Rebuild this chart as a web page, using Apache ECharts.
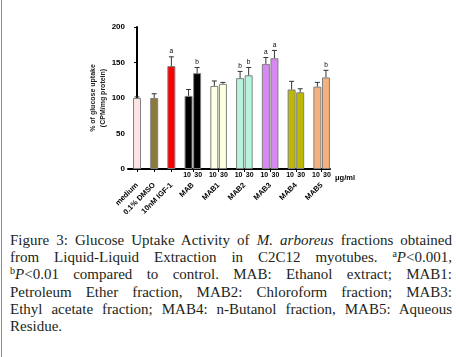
<!DOCTYPE html>
<html>
<head>
<meta charset="utf-8">
<script src="https://cdn.jsdelivr.net/npm/echarts@6/dist/echarts.min.js"></script>
<style>
  html,body{margin:0;padding:0;background:#fff;}
  body{width:456px;height:357px;position:relative;overflow:hidden;}
  #frame{position:absolute;left:1px;top:0;width:1px;height:357px;background:#888;}
  #chart{position:absolute;left:0;top:0;width:456px;height:232px;}
  #cap{position:absolute;left:10px;top:232px;width:442px;font-family:"Liberation Serif","DejaVu Serif",serif;font-size:15px;line-height:17.2px;color:#231f20;}
  #cap div{text-align:justify;text-align-last:justify;white-space:nowrap;}
  #cap div.last{text-align-last:left;}
  #cap sup{font-size:10px;line-height:0;vertical-align:5px;}
</style>
</head>
<body>
<div id="frame"></div>
<div id="chart"></div>
<div id="cap">
<div>Figure 3: Glucose Uptake Activity of <i>M. arboreus</i> fractions obtained</div>
<div>from Liquid-Liquid Extraction in C2C12 myotubes. <sup>a</sup><i>P</i>&lt;0.001,</div>
<div><sup>b</sup><i>P</i>&lt;0.01 compared to control. MAB: Ethanol extract; MAB1:</div>
<div>Petroleum Ether fraction, MAB2: Chloroform fraction; MAB3:</div>
<div>Ethyl acetate fraction; MAB4: n-Butanol fraction, MAB5: Aqueous</div>
<div class="last">Residue.</div>
</div>
<script>
// ---- data ----
const categories = ['medium', '0.1% DMSO', '10nM IGF-1', 'MAB', 'MAB1', 'MAB2', 'MAB3', 'MAB4', 'MAB5'];
const groupSizes = [1, 1, 1, 2, 2, 2, 2, 2, 2];
const groupColors = ['#fde3e3', '#8a7a3c', '#ff0000', '#000000', '#ffffe2', '#b6f5dc', '#d888f2', '#bdb804', '#f5b27e'];
const doseLabels = ['', '', '', '10', '30', '10', '30', '10', '30', '10', '30', '10', '30', '10', '30'];
const means = [100, 100, 145, 103, 135, 117, 120, 128, 132, 148, 156, 112, 108, 116, 129];
const errors = [1.5, 6, 13, 9, 8, 7, 2, 9.5, 11, 9, 11, 11.5, 5, 6, 10];
const signif = ['', '', 'a', '', 'b', '', '', 'b', 'b', 'a', 'a', '', '', '', 'b'];
const yTicks = [0, 50, 100, 150, 200];
const unitLabel = 'μg/ml';

// ---- layout of slots (bar order) ----
const slots = [], colors = [], groupCenters = [], tickPos = [];
let p = 0;
groupSizes.forEach((n, gi) => {
  if (n === 1) { slots.push(p); colors.push(groupColors[gi]); groupCenters.push(p); tickPos.push(p); p += 2; }
  else { slots.push(p, p + 1); colors.push(groupColors[gi], groupColors[gi]); groupCenters.push(p + 0.5); tickPos.push(p + 0.5); p += 3; }
});
const centerName = {};
groupCenters.forEach((c, i) => centerName[c] = categories[i]);

const barData = means.map((v, i) => ({
  value: [slots[i], v],
  itemStyle: { color: colors[i] },
  label: { formatter: doseLabels[i], offset: [doseLabels[i] === '10' ? -1.5 : 1, 0] }
}));
const errData = means.map((v, i) => [slots[i], v, v + errors[i], signif[i]]);

const FONT = 'Arial, Liberation Sans, sans-serif';
const chart = echarts.init(document.getElementById('chart'), null, { renderer: 'canvas' });
chart.setOption({
  animation: false,
  grid: { left: 128, top: 27, width: 202, height: 142, containLabel: false },
  xAxis: {
    type: 'value', min: -1.05, max: 22.47,
    splitLine: { show: false },
    axisLine: { show: true, onZero: false, lineStyle: { color: '#000', width: 2 } },
    axisTick: { show: true, customValues: tickPos, length: 3, lineStyle: { color: '#000', width: 1 } },
    axisLabel: {
      show: true, customValues: groupCenters, rotate: 45, margin: 15,
      formatter: v => centerName[v] || '',
      fontFamily: FONT, fontSize: 7.5, fontWeight: 'bold', color: '#000'
    },
    name: unitLabel, nameLocation: 'end', nameGap: 5,
    nameTextStyle: { fontFamily: FONT, fontSize: 7.5, fontWeight: 'bold', color: '#000', verticalAlign: 'top', align: 'left', padding: [5, 0, 0, 0] }
  },
  yAxis: {
    type: 'value', min: 0, max: 200, interval: 50,
    splitLine: { show: false },
    axisLine: { show: true, lineStyle: { color: '#000', width: 2 } },
    axisTick: { show: true, length: 3, lineStyle: { color: '#000', width: 1 } },
    axisLabel: { formatter: v => yTicks.includes(v) ? String(v) : '', margin: 3, fontFamily: FONT, fontSize: 8, fontWeight: 'bold', color: '#000' },
    name: '% of glucose uptake\n(CPM/mg protein)', nameLocation: 'middle', nameGap: 17, nameRotate: 90,
    nameTextStyle: { fontFamily: FONT, fontSize: 7, fontWeight: 'bold', color: '#222', lineHeight: 10 }
  },
  series: [
    {
      type: 'bar', data: barData, barWidth: 8,
      itemStyle: { borderColor: '#808080', borderWidth: 1 },
      label: { show: true, position: 'bottom', distance: 3, fontFamily: FONT, fontSize: 7, fontWeight: 'bold', color: '#000' },
      z: 2
    },
    {
      type: 'custom', data: errData, z: 3,
      renderItem: (params, api) => {
        const x = api.value(0);
        const pLow = api.coord([x, api.value(1)]);
        const pHigh = api.coord([x, api.value(2)]);
        const s = signif[params.dataIndex];
        const children = [
          { type: 'line', shape: { x1: pLow[0], y1: pLow[1], x2: pHigh[0], y2: pHigh[1] }, style: { stroke: '#333', lineWidth: 1 } },
          { type: 'line', shape: { x1: pHigh[0] - 2.5, y1: pHigh[1], x2: pHigh[0] + 2.5, y2: pHigh[1] }, style: { stroke: '#333', lineWidth: 1 } }
        ];
        if (s) children.push({ type: 'text', x: pHigh[0], y: pHigh[1] - 2, style: { text: s, fill: '#000', font: '6.5px Arial, sans-serif', align: 'center', verticalAlign: 'bottom' } });
        return { type: 'group', children };
      }
    }
  ]
});
</script>
</body>
</html>
